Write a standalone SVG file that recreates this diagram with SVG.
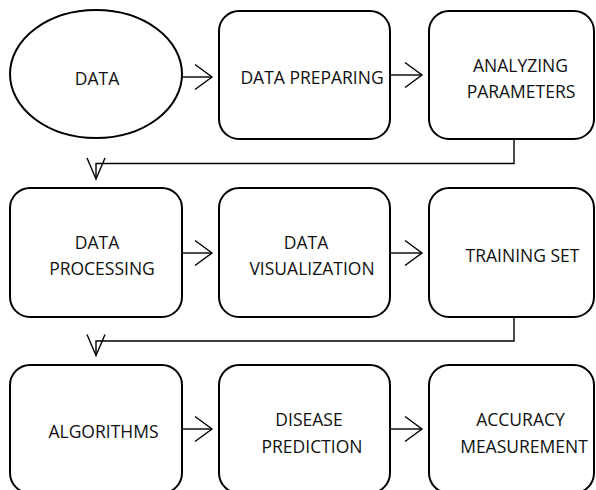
<svg xmlns="http://www.w3.org/2000/svg" width="596" height="490" viewBox="0 0 596 490">
<style>
.box{fill:#fff;stroke:#000;stroke-width:2}
.con{fill:none;stroke:#000;stroke-width:1.4}
text{font-family:"Open Sans","Noto Sans",sans-serif;font-size:17.5px;fill:#111;text-anchor:middle}
</style>
<defs>
<marker id="ah" markerUnits="userSpaceOnUse" markerWidth="22" markerHeight="30" viewBox="-20 -15 22 30" refX="0" refY="0" orient="auto" overflow="visible">
<path d="M-17,-12.5 L0,0 L-17,12.5" fill="none" stroke="#000" stroke-width="1.4"/>
</marker>
<marker id="av" markerUnits="userSpaceOnUse" markerWidth="26" markerHeight="24" viewBox="-24 -12 26 24" refX="0" refY="0" orient="auto" overflow="visible">
<path d="M-21,-9 L0,0 L-21,9" fill="none" stroke="#000" stroke-width="1.4"/>
</marker>
</defs>
<rect width="596" height="490" fill="#fff"/>
<g id="connectors">
<line class="con" x1="182" y1="77" x2="212" y2="77" marker-end="url(#ah)"/>
<line class="con" x1="390" y1="75" x2="422" y2="75" marker-end="url(#ah)"/>
<polyline class="con" points="514,139 514,163.5 96,163.5 96,179" marker-end="url(#av)"/>
<line class="con" x1="182" y1="253" x2="212" y2="253" marker-end="url(#ah)"/>
<line class="con" x1="390" y1="253" x2="422" y2="253" marker-end="url(#ah)"/>
<polyline class="con" points="514,317 514,341 96,341 96,355.5" marker-end="url(#av)"/>
<line class="con" x1="182" y1="429" x2="212" y2="429" marker-end="url(#ah)"/>
<line class="con" x1="390" y1="429" x2="422" y2="429" marker-end="url(#ah)"/>
</g>
<g id="data">
<ellipse class="box" cx="96" cy="74" rx="86" ry="64"/>
<text x="97" y="85">DATA</text>
</g>
<g id="data-preparing">
<rect class="box" x="219" y="11" width="171" height="128" rx="20"/>
<text x="312" y="84">DATA PREPARING</text>
</g>
<g id="analyzing-parameters">
<rect class="box" x="429" y="11" width="165" height="128" rx="20"/>
<text x="520.5" y="72">ANALYZING</text>
<text x="521" y="98">PARAMETERS</text>
</g>
<g id="data-processing">
<rect class="box" x="10" y="188" width="172" height="129" rx="20"/>
<text x="97" y="249">DATA</text>
<text x="102" y="275">PROCESSING</text>
</g>
<g id="data-visualization">
<rect class="box" x="219" y="188" width="171" height="129" rx="20"/>
<text x="306" y="249">DATA</text>
<text x="312" y="275">VISUALIZATION</text>
</g>
<g id="training-set">
<rect class="box" x="429" y="188" width="165" height="129" rx="20"/>
<text x="522.5" y="262">TRAINING SET</text>
</g>
<g id="algorithms">
<rect class="box" x="10" y="365" width="172" height="128" rx="20"/>
<text x="103.5" y="438">ALGORITHMS</text>
</g>
<g id="disease-prediction">
<rect class="box" x="219" y="365" width="171" height="128" rx="20"/>
<text x="309" y="426">DISEASE</text>
<text x="312" y="453">PREDICTION</text>
</g>
<g id="accuracy-measurement">
<rect class="box" x="429" y="365" width="165" height="128" rx="20"/>
<text x="520.5" y="426">ACCURACY</text>
<text x="524" y="453">MEASUREMENT</text>
</g>
</svg>
